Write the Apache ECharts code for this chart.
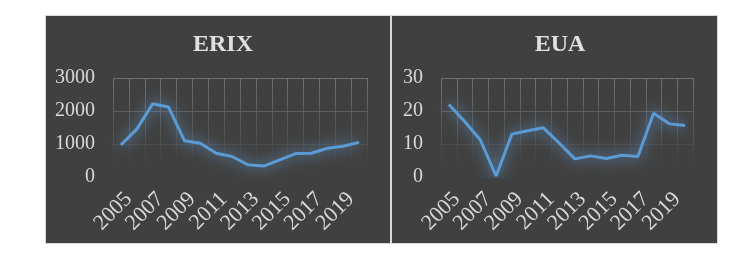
<!DOCTYPE html>
<html>
<head>
<meta charset="utf-8">
<script src="https://cdn.jsdelivr.net/npm/echarts@6/dist/echarts.min.js"></script>
<style>
html,body{margin:0;padding:0;background:#fff;}
#chart{width:736px;height:257px;}
</style>
</head>
<body>
<div id="chart"></div>
<script>
var years = ['2005','2006','2007','2008','2009','2010','2011','2012','2013','2014','2015','2016','2017','2018','2019','2020'];
var erixValues = [970, 1450, 2220, 2120, 1100, 1020, 720, 620, 370, 330, 520, 710, 720, 870, 930, 1050];
var euaValues = [22, 16.8, 11.2, 0.3, 13, 14, 14.9, 10.3, 5.5, 6.4, 5.6, 6.6, 6.2, 19.3, 16.1, 15.6];
var titles = ['ERIX', 'EUA'];
var erixTicks = {min: 0, max: 3000, interval: 1000};
var euaTicks = {min: 0, max: 30, interval: 10};

var labelColor = '#d9d9d9';
var font = '"Liberation Serif", "Times New Roman", serif';
function gridGrad(){
  return new echarts.graphic.LinearGradient(0, 78, 0, 177, [
    {offset: 0, color: 'rgba(112,112,112,1)'},
    {offset: 0.6, color: 'rgba(84,84,84,0.85)'},
    {offset: 1, color: 'rgba(64,64,64,0)'}
  ], true);
}
function xAxis(i){
  return {
    type: 'category', gridIndex: i, data: years, boundaryGap: true,
    axisLine: {show: false}, axisTick: {show: false},
    axisLabel: {interval: 1, rotate: 45, margin: 11, align: 'right', verticalAlign: 'top', color: labelColor, fontFamily: font, fontSize: 22},
    splitLine: {show: true, interval: 0, lineStyle: {color: gridGrad(), width: 1}}
  };
}
function yAxis(i, t){
  return {
    type: 'value', gridIndex: i, min: t.min, max: t.max, interval: t.interval,
    axisLine: {show: false}, axisTick: {show: false},
    axisLabel: {margin: 18, color: labelColor, fontFamily: font, fontSize: 20, formatter: function(v){ return String(v); }},
    splitLine: {show: true, lineStyle: {color: gridGrad(), width: 1}}
  };
}
function lineSeries(i, data){
  return {
    type: 'line', xAxisIndex: i, yAxisIndex: i, data: data,
    symbol: 'none', smooth: false, silent: true,
    lineStyle: {color: '#5b9bd5', width: 3, shadowColor: 'rgba(100,170,235,1)', shadowBlur: 14},
    itemStyle: {color: '#5b9bd5'}
  };
}
var chart = echarts.init(document.getElementById('chart'), null, {renderer: 'canvas'});
chart.setOption({
  animation: false,
  backgroundColor: '#ffffff',
  graphic: [
    {type: 'rect', z: -10, shape: {x: 45.5, y: 15.5, width: 345, height: 228}, style: {fill: '#404040', stroke: '#d9d9d9', lineWidth: 1}},
    {type: 'rect', z: -10, shape: {x: 391.5, y: 15.5, width: 326, height: 228}, style: {fill: '#404040', stroke: '#d9d9d9', lineWidth: 1}}
  ],
  title: [
    {text: titles[0], left: 218, top: 28, textAlign: 'center', textStyle: {color: '#e0e0e0', fontFamily: font, fontWeight: 'bold', fontSize: 24}},
    {text: titles[1], left: 555, top: 28, textAlign: 'center', textStyle: {color: '#e0e0e0', fontFamily: font, fontWeight: 'bold', fontSize: 24}}
  ],
  grid: [
    {left: 113, top: 78, width: 254, height: 99, containLabel: false},
    {left: 441, top: 78, width: 252, height: 99, containLabel: false}
  ],
  xAxis: [xAxis(0), xAxis(1)],
  yAxis: [yAxis(0, erixTicks), yAxis(1, euaTicks)],
  series: [lineSeries(0, erixValues), lineSeries(1, euaValues)]
});
</script>
</body>
</html>
